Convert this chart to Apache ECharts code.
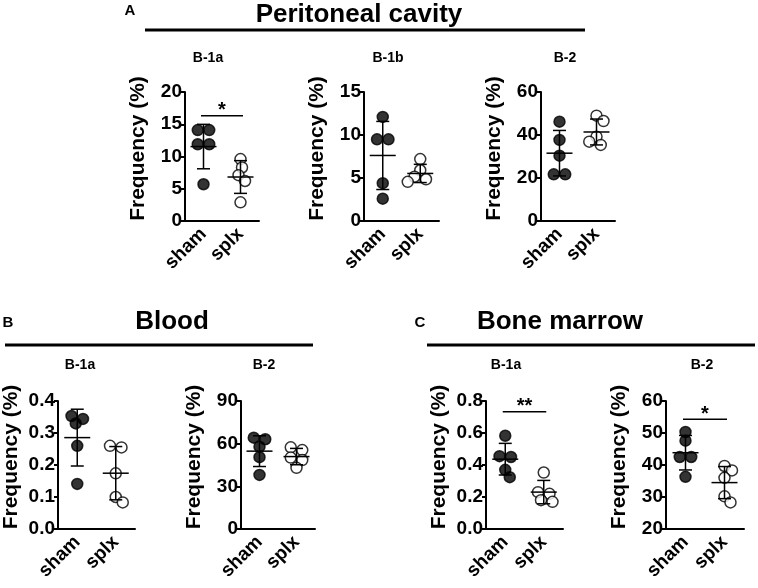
<!DOCTYPE html>
<html><head><meta charset="utf-8">
<script src="https://cdn.jsdelivr.net/npm/echarts@6/dist/echarts.min.js"></script>
<style>html,body{margin:0;padding:0;background:#fff}#c{width:758px;height:588px}</style>
</head><body><div id="c"></div>
<script>
// ---------- data ----------
const categories = ['sham', 'splx'];
const sectionTitles = ['Peritoneal cavity', 'Blood', 'Bone marrow'];
const sectionLetters = ['A', 'B', 'C'];
const panelTitles = ['B-1a', 'B-1b', 'B-2', 'B-1a', 'B-2', 'B-1a', 'B-2'];
const yAxisName = 'Frequency (%)';
const yMin = [0, 0, 0, 0, 0, 0, 20];
const yMax = [20, 15, 60, 0.4, 90, 0.8, 60];
const yInterval = [5, 5, 20, 0.1, 30, 0.2, 10];
const yDecimals = [0, 0, 0, 1, 0, 1, 0];

// Peritoneal cavity
const pcB1aSham = [14.1, 14.1, 11.9, 11.9, 5.7];
const pcB1aSplx = [9.6, 8.3, 7.1, 6.2, 2.9];
const pcB1bSham = [12.1, 9.5, 9.5, 4.4, 2.6];
const pcB1bSplx = [7.2, 5.9, 5.15, 4.85, 4.55];
const pcB2Sham = [46.2, 37.7, 30.4, 21.7, 21.7];
const pcB2Splx = [49.0, 46.5, 39.2, 36.9, 35.4];
// Blood
const blB1aSham = [0.353, 0.344, 0.33, 0.26, 0.141];
const blB1aSplx = [0.26, 0.255, 0.174, 0.10, 0.083];
const blB2Sham = [64.2, 63.1, 57.9, 50.5, 38.0];
const blB2Splx = [57.4, 55.5, 50.2, 48.5, 43.0];
// Bone marrow
const bmB1aSham = [0.583, 0.455, 0.45, 0.37, 0.324];
const bmB1aSplx = [0.353, 0.23, 0.22, 0.18, 0.17];
const bmB2Sham = [50.3, 47.6, 42.5, 42.5, 36.3];
const bmB2Splx = [39.7, 38.3, 36.0, 30.2, 28.3];

// significance brackets (value where the bar sits, label)
const sigLevel = [16.3, null, null, null, null, 0.733, 54.3];
const sigLabel = ['*', '', '', '', '', '**', '*'];

// ---------- layout / style ----------
const FONT = '"Liberation Sans", Arial, sans-serif';
const grids = [
  {left: 185, top: 92, width: 74, height: 129},
  {left: 364, top: 92, width: 75, height: 129},
  {left: 541, top: 92, width: 74, height: 129},
  {left: 57, top: 401, width: 78, height: 128},
  {left: 241, top: 401, width: 74, height: 128},
  {left: 486, top: 401, width: 77, height: 128},
  {left: 666, top: 401, width: 78, height: 128}
];
const titlePos = [[208, 58], [388, 58], [565, 58], [80, 365], [264, 365], [506, 365], [702, 365]];
const sectionPos = [
  {tx: 359, ty: 15, lx1: 145, lx2: 585, ly: 30, letter: [130, 11]},
  {tx: 172, ty: 322, lx1: 5, lx2: 313, ly: 345, letter: [8, 323]},
  {tx: 560, ty: 322, lx1: 427, lx2: 755, ly: 345, letter: [420, 323]}
];
const panelData = [
  [pcB1aSham, pcB1aSplx], [pcB1bSham, pcB1bSplx], [pcB2Sham, pcB2Splx],
  [blB1aSham, blB1aSplx], [blB2Sham, blB2Splx],
  [bmB1aSham, bmB1aSplx], [bmB2Sham, bmB2Splx]
];
const DOT = 11;       // symbol diameter
const ROWGAP = 11.5;  // spacing of equal values side by side
const COLL = 8.5;     // allowed overlap distance for swarm

function mean(a) { return a.reduce((s, v) => s + v, 0) / a.length; }
function sd(a) { const m = mean(a); return Math.sqrt(a.reduce((s, v) => s + (v - m) * (v - m), 0) / (a.length - 1)); }

// simple beeswarm: returns horizontal pixel offsets for each value
function swarm(values, pxPerUnit) {
  const idx = values.map((v, i) => i).sort((a, b) => values[b] - values[a]);
  const off = new Array(values.length).fill(0);
  const placed = [];
  let k = 0;
  while (k < idx.length) {
    const row = [idx[k]];
    const y0 = values[idx[k]] * pxPerUnit;
    let j = k + 1;
    while (j < idx.length && Math.abs(values[idx[j]] * pxPerUnit - y0) < 3.5) { row.push(idx[j]); j++; }
    const n = row.length;
    const shifts = [0];
    for (let s = 0.5; s <= 40; s += 0.5) { shifts.push(s, -s); }
    for (const sh of shifts) {
      const pts = row.map((id, r) => [(r - (n - 1) / 2) * ROWGAP + sh, values[id] * pxPerUnit]);
      const ok = pts.every(p => placed.every(q => Math.hypot(p[0] - q[0], p[1] - q[1]) >= COLL - 0.01));
      if (ok) {
        pts.forEach((p, r) => { off[row[r]] = p[0]; placed.push(p); });
        break;
      }
    }
    k = j;
  }
  return off;
}

const option = {
  animation: false,
  backgroundColor: '#fff',
  grid: [], xAxis: [], yAxis: [], series: [],
  graphic: []
};

const axisLineStyle = {color: '#000', width: 2};

panelData.forEach((groups, i) => {
  const g = grids[i];
  option.grid.push(Object.assign({containLabel: false}, g));
  option.xAxis.push({
    type: 'category', gridIndex: i, data: categories,
    axisLine: {lineStyle: axisLineStyle},
    axisTick: {alignWithLabel: true, length: 4, lineStyle: {color: '#000', width: 2}},
    axisLabel: {rotate: 45, margin: 10, color: '#000', fontSize: 19, fontWeight: 'bold', fontFamily: FONT, interval: 0},
    splitLine: {show: false}
  });
  option.yAxis.push({
    type: 'value', gridIndex: i, min: yMin[i], max: yMax[i], interval: yInterval[i],
    name: yAxisName, nameLocation: 'middle', nameGap: 36,
    nameTextStyle: {color: '#000', fontSize: 21, fontWeight: 'bold', fontFamily: FONT, padding: [0, 0, 0, 16]},
    axisLine: {show: true, lineStyle: axisLineStyle},
    axisTick: {show: true, length: 4, lineStyle: {color: '#000', width: 2}},
    axisLabel: {margin: 3, color: '#000', fontSize: 19, fontWeight: 'bold', fontFamily: FONT,
      formatter: v => Number(v).toFixed(yDecimals[i])},
    splitLine: {show: false}
  });
  const pxPerUnit = g.height / (yMax[i] - yMin[i]);
  const dots = [];
  const stats = [];
  groups.forEach((vals, gi) => {
    const offs = swarm(vals, pxPerUnit);
    vals.forEach((v, k) => {
      dots.push({value: [gi, v], symbolOffset: [offs[k], 0],
        itemStyle: {color: gi === 0 ? '#000' : '#fff', borderColor: '#000', borderWidth: 1.5}});
    });
    stats.push([gi, mean(vals), sd(vals)]);
  });
  option.series.push({
    type: 'scatter', xAxisIndex: i, yAxisIndex: i, symbol: 'circle', symbolSize: DOT,
    data: dots, z: 2, silent: true
  });
  option.series.push({
    type: 'custom', xAxisIndex: i, yAxisIndex: i, z: 3, silent: true,
    data: stats,
    renderItem: (params, api) => {
      const gi = api.value(0), m = api.value(1), s = api.value(2);
      const c = api.coord([gi, m]), t = api.coord([gi, m + s]), b = api.coord([gi, m - s]);
      const st = {stroke: '#000', lineWidth: 1.5};
      return {type: 'group', children: [
        {type: 'line', shape: {x1: c[0], y1: t[1], x2: c[0], y2: b[1]}, style: st},
        {type: 'line', shape: {x1: c[0] - 6.5, y1: t[1], x2: c[0] + 6.5, y2: t[1]}, style: st},
        {type: 'line', shape: {x1: c[0] - 6.5, y1: b[1], x2: c[0] + 6.5, y2: b[1]}, style: st},
        {type: 'line', shape: {x1: c[0] - 13, y1: c[1], x2: c[0] + 13, y2: c[1]}, style: st}
      ]};
    }
  });
  if (sigLevel[i] !== null) {
    option.series.push({
      type: 'custom', xAxisIndex: i, yAxisIndex: i, z: 3, silent: true,
      data: [[sigLevel[i]]],
      renderItem: (params, api) => {
        const y = api.value(0);
        const p0 = api.coord([0, y]), p1 = api.coord([1, y]);
        return {type: 'group', children: [
          {type: 'line', shape: {x1: p0[0] - 2.5, y1: p0[1], x2: p1[0] + 2.5, y2: p1[1]}, style: {stroke: '#000', lineWidth: 1.5}},
          {type: 'text', style: {x: (p0[0] + p1[0]) / 2, y: p0[1] - 5, text: sigLabel[i],
            align: 'center', verticalAlign: 'middle', fill: '#000', font: 'bold 20px ' + FONT}}
        ]};
      }
    });
  }
  option.graphic.push({type: 'text', x: titlePos[i][0], y: titlePos[i][1],
    style: {text: panelTitles[i], align: 'center', verticalAlign: 'middle', fill: '#000', font: 'bold 14px ' + FONT}});
});

sectionPos.forEach((s, k) => {
  option.graphic.push({type: 'text', x: s.tx, y: s.ty,
    style: {text: sectionTitles[k], align: 'center', verticalAlign: 'middle', fill: '#000', font: 'bold 26px ' + FONT}});
  option.graphic.push({type: 'line', shape: {x1: s.lx1, y1: s.ly, x2: s.lx2, y2: s.ly},
    style: {stroke: '#000', lineWidth: 3}});
  option.graphic.push({type: 'text', x: s.letter[0], y: s.letter[1],
    style: {text: sectionLetters[k], align: 'center', verticalAlign: 'middle', fill: '#000', font: 'bold 15px ' + FONT}});
});

const chart = echarts.init(document.getElementById('c'), null, {renderer: 'canvas'});
chart.setOption(option);
</script>
</body></html>
